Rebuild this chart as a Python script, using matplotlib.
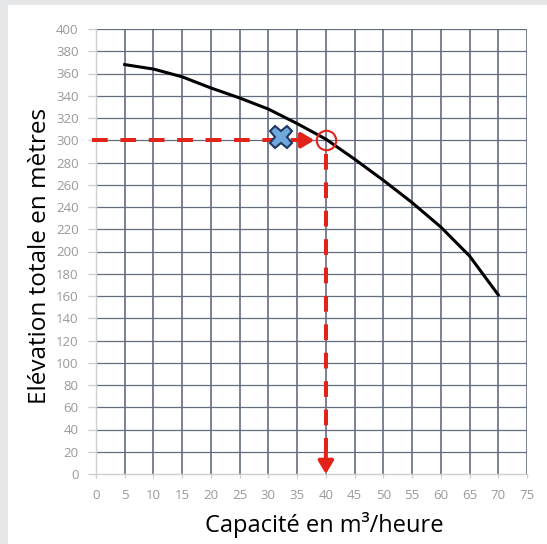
import matplotlib
matplotlib.use("Agg")
import matplotlib.pyplot as plt
from matplotlib.patches import Rectangle

# Courbe de la pompe (capacité en m3/h, élévation en m)
capacite = [5, 10, 15, 20, 25, 30, 35, 40, 45, 50, 55, 60, 65, 70]
elevation = [368, 364, 357, 347, 338, 328, 315, 301, 283, 264, 244, 222, 196, 161]

# Point de fonctionnement et point demandé
q_op, h_op = 40, 300
q_x, h_x = 32.2, 303

x_ticks = list(range(0, 80, 5))
y_ticks = list(range(0, 420, 20))

plt.rcParams['font.family'] = ['Open Sans', 'DejaVu Sans']

fig = plt.figure(figsize=(5.47, 5.44), dpi=100)
fig.patch.set_facecolor('#e6e7e9')
fig.patches.append(Rectangle((8 / 547, 0), 1, 1 - 5 / 544, transform=fig.transFigure,
                             facecolor='white', edgecolor='none', zorder=-5))

ax = fig.add_axes([96 / 547, 70 / 544, 431 / 547, 445 / 544])
ax.set_facecolor('white')
ax.set_xlim(0, 75)
ax.set_ylim(0, 400)
ax.set_xticks(x_ticks)
ax.set_yticks(y_ticks)

grid_col = '#646c80'
for x in x_ticks[1:]:
    ax.axvline(x, color=grid_col, lw=1.2, zorder=1)
for y in y_ticks[1:]:
    ax.axhline(y, color=grid_col, lw=0.9, zorder=1)

for s in ['top', 'right']:
    ax.spines[s].set_visible(False)
for s in ['left', 'bottom']:
    ax.spines[s].set_color('#cfcfcf')
    ax.spines[s].set_linewidth(1.0)
ax.tick_params(axis='y', colors='#cfcfcf', length=5.5, width=1.0, labelcolor='#999999',
               labelsize=9.5, pad=7)
ax.tick_params(axis='x', colors='#cfcfcf', length=3, width=1.0, labelcolor='#999999',
               labelsize=9.5, pad=8)

# courbe
ax.plot(capacite, elevation, color='black', lw=2.2, zorder=3)

red = '#e2231a'
head = '-|>,head_length=0.75,head_width=0.45'
# ligne horizontale vers le point
ax.plot([-0.7, q_op - 4.5], [h_op, h_op], color=red, lw=2.9, dashes=[3.9, 3.15],
        clip_on=False, zorder=4)
ax.annotate('', xy=(q_op - 2.0, h_op), xytext=(q_op - 5.0, h_op),
            arrowprops=dict(arrowstyle=head, color=red, lw=2.9, shrinkA=0, shrinkB=0),
            zorder=4)
# ligne verticale vers l'axe
ax.plot([q_op, q_op], [h_op - 12, 16], color=red, lw=2.9, dashes=[3.9, 3.15], zorder=4)
ax.annotate('', xy=(q_op, 0), xytext=(q_op, 18),
            arrowprops=dict(arrowstyle=head, color=red, lw=2.9, shrinkA=0, shrinkB=0),
            zorder=4)
ax.plot(q_op, h_op, 'o', ms=14, mfc='none', mec=red, mew=1.5, zorder=5)

ax.plot(q_x, h_x, 'X', ms=16, mfc='#6fa8dc', mec='#1f3864', mew=1.5, zorder=6)

ax.set_xlabel('Capacité en m³/heure', fontsize=17)
ax.set_ylabel('Elévation totale en mètres', fontsize=17.5)
ax.xaxis.set_label_coords(0.53, -0.085)
ax.yaxis.set_label_coords(-0.102, 0.49)

fig.savefig('out.png', dpi=100, facecolor=fig.get_facecolor())
